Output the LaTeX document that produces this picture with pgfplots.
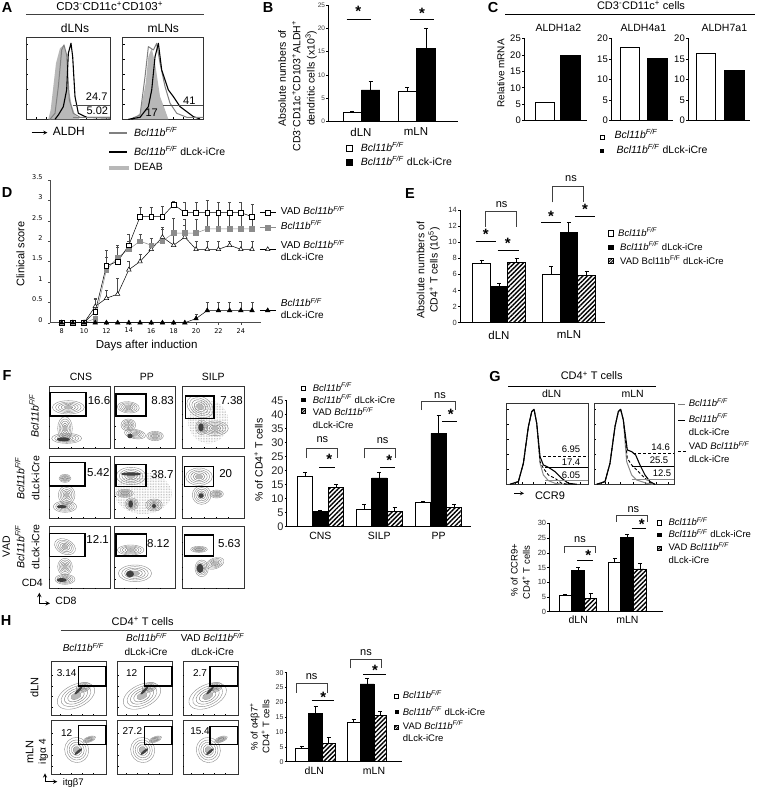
\documentclass[border=0pt]{standalone}
\usepackage{fontspec}
\setmainfont{Liberation Sans}
\newfontfamily\dv{DejaVu Sans}
\usepackage{pgfplots}
\pgfplotsset{compat=1.18}
\usetikzlibrary{patterns.meta}
\newcommand\fs[1]{\fontsize{#1}{#1}\selectfont}
\newcommand\BF{\textit{Bcl11b}\textsuperscript{\textit{F/F}}}
\newcommand\CUT{\BF\ dLck-iCre}
\tikzset{
 Z/.style 2 args={shift={(#1pt,-#2pt)},x=0.33333pt,y=-0.33333pt},
 t/.style={inner sep=0pt,anchor=mid},
 l/.style={inner sep=0pt,anchor=mid west},
 hatch/.style={pattern={Lines[angle=45,distance=3.2pt,line width=1.4pt]}},
 br/.style={line width=.7pt,black!75},
}
\pgfplotsset{
 eb/.style={error bars/y dir=plus,error bars/y explicit,error bars/error bar style={line width=.8pt,black,solid,fill=none},error bars/error mark options={rotate=90,mark size=2pt,line width=.8pt,black}},
 wb/.style={ybar,bar shift=0pt,bar width=#1,fill=white,draw=black,line width=.9pt,eb},
 kb/.style={ybar,bar shift=0pt,bar width=#1,fill=black,draw=black,line width=.9pt,eb},
 hb/.style={ybar,bar shift=0pt,bar width=#1,draw=black,line width=.9pt,/tikz/hatch,eb},
 wn/.style={ybar,bar shift=0pt,bar width=#1,fill=white,draw=black,line width=.9pt},
 kn/.style={ybar,bar shift=0pt,bar width=#1,fill=black,draw=black,line width=.9pt},
 barax/.style={scale only axis,axis x line*=bottom,axis y line*=left,axis line style={line width=.7pt,-},tick align=outside,
   xtick style={draw=none},ytick style={line width=.5pt,black},major tick length=2pt,clip=false,
   /pgf/number format/assume math mode=true,enlargelimits=false,ymin=0,tick label style={inner sep=1pt}},
 hist/.style={scale only axis,enlargelimits=false,ymin=0,axis line style={line width=.9pt,black!80},xticklabels={},yticklabels={},tick align=inside,
   major tick length=2pt,tick style={black,line width=.4pt},xtick pos=bottom,ytick pos=left,clip=true,
   no markers,every axis plot/.append style={line join=round}},
 dd/.style={line width=.5pt,black,error bars/y dir=plus,error bars/y explicit,error bars/error bar style={line width=.4pt,black!70},error bars/error mark options={rotate=90,mark size=1.5pt,black!70,line width=.4pt}},
}
% flow-cytometry contour decoration
\newcommand\Cn[5]{\foreach \s/\g in {1/45,.8/45,.62/50,.44/55,.27/60}{\draw[black!\g,line width=.4pt,rotate around={#5:(#1,#2)}] (#1,#2) ellipse [x radius=\s*#3,y radius=\s*#4];}\fill[black!28,rotate around={#5:(#1,#2)}] (#1,#2) ellipse [x radius=.27*#3,y radius=.27*#4];}
\newcommand\Cr[5]{\fill[black!75,rotate around={#5:(#1,#2)}] (#1,#2) ellipse [x radius=#3,y radius=#4];}
\newcommand\Bg[5]{\fill[pattern={Dots[distance=1.6pt,radius=.3pt]},pattern color=black!55,rotate around={#5:(#1,#2)}] (#1,#2) ellipse [x radius=#3,y radius=#4];}
\newcommand\FB[4]{\draw[line width=.9pt,black!80] (#1,#2) rectangle (#3,#4);
  \foreach \q in {.15,.35,.55,.75}{\draw[line width=.3pt] ({#1+\q*(#3-#1)},#4) -- ++(0,-3);\draw[line width=.3pt] (#1,{#4-\q*(#4-#2)}) -- ++(3,0);}}
\newcommand\Gt[4]{\draw[line width=1.1pt] (#1,#2) rectangle (#3,#4);}
\newcommand\Nm[3]{\node[t,font=\fs{11.5}] at (#1,#2) {#3};}
\newcommand\Br[4]{\draw[br] (#1,#4) -- (#1,#3) -- (#2,#3) -- (#2,#4);}
\newcommand\St[2]{\node[inner sep=0pt,font=\fs{15}\bfseries] at (#1,#2+4) {*};}
\newcommand\Ln[3]{\draw[line width=.8pt] (#1,#3) -- (#2,#3);}
\newcommand\SW[3]{\draw[line width=.9pt,fill=white] ({#1-#3},{#2-#3}) rectangle ({#1+#3},{#2+#3});}
\newcommand\SK[3]{\fill[black] ({#1-#3},{#2-#3}) rectangle ({#1+#3},{#2+#3});}
\newcommand\SH[3]{\draw[line width=.9pt,pattern={Lines[angle=45,distance=2pt,line width=1pt]}] ({#1-#3},{#2-#3}) rectangle ({#1+#3},{#2+#3});}
\begin{document}
\begin{tikzpicture}
\path[use as bounding box,fill=white] (0pt,0pt) rectangle (756pt,-800pt);

% ---------- A histograms
\begin{axis}[hist,at={(26pt,-119.3pt)},width=84pt,height=81.7pt,xmin=78,xmax=330,ymax=245,xtick={110,140,170,200,230,260,290,320},ytick={45,90,135,180,225}]
\addplot[fill=black!28,draw=none] coordinates {(145,0)(152,28)(160,98)(168,168)(180,213)(192,223)(200,188)(205,98)(215,43)(225,13)(240,0)};
\addplot[black!50,line width=1pt] coordinates {(150,0)(165,18)(175,98)(185,208)(192,223)(200,193)(208,58)(220,18)(240,6)(330,3)};
\addplot[black,line width=1.1pt] coordinates {(165,0)(175,13)(190,38)(200,88)(205,198)(213,228)(218,188)(225,68)(235,18)(260,6)(330,6)};
\addplot[black!70,line width=.9pt] coordinates {(218,43)(330,43)};
\addplot[black!50,line width=.9pt] coordinates {(218,6)(330,6)};
\end{axis}
\begin{axis}[hist,at={(122.7pt,-119.3pt)},width=80.7pt,height=81.7pt,xmin=368,xmax=610,ymax=245,xtick={400,430,460,490,520,550,580},ytick={45,90,135,180,225}]
\addplot[fill=black!28,draw=none] coordinates {(400,0)(420,18)(437,108)(445,188)(455,213)(465,168)(480,68)(495,28)(505,0)};
\addplot[black!50,line width=1pt] coordinates {(390,0)(420,13)(435,128)(445,218)(460,208)(470,228)(480,168)(495,98)(510,48)(530,18)(560,6)(610,6)};
\addplot[black,line width=1.1pt] coordinates {(385,0)(420,6)(445,38)(455,88)(465,188)(475,228)(485,148)(495,118)(505,88)(520,68)(540,38)(560,23)(580,8)(600,1)};
\addplot[black!70,line width=.9pt] coordinates {(488,43)(610,43)};
\addplot[black!50,line width=.9pt] coordinates {(570,6)(610,6)};
\end{axis}

% ---------- B
\begin{axis}[barax,at={(328.3pt,-121.7pt)},width=130pt,height=116.7pt,xmin=328.3,xmax=458.3,ymax=25,ytick={0,5,...,25},xtick={361,416},xticklabels={dLN,mLN},
  yticklabel style={font=\fs{6.5}\color{black!75}},xticklabel style={font=\fs{11.5},yshift=-3pt}]
\addplot[wb=18pt] coordinates {(352,1.9)+-(0,.4)(407,6.4)+-(0,.9)};
\addplot[kb=18.5pt] coordinates {(370.5,6.8)+-(0,1.9)(426,15.7)+-(0,4.3)};
\end{axis}

% ---------- C
\begin{axis}[barax,at={(524pt,-120.7pt)},width=63pt,height=82.4pt,xmin=524,xmax=587,ymax=25,ytick={0,5,...,25},xtick=\empty,yticklabel style={font=\fs{9.5}}]
\addplot[wn=19.5pt] coordinates {(545,5.5)};
\addplot[kn=20pt] coordinates {(570,19.9)};
\end{axis}
\begin{axis}[barax,at={(611pt,-120.7pt)},width=62pt,height=82.4pt,xmin=611,xmax=673,ymax=20,ytick={0,5,...,20},xtick=\empty,yticklabel style={font=\fs{9.5}}]
\addplot[wn=19.5pt] coordinates {(630,17.8)};
\addplot[kn=20pt] coordinates {(657,15.2)};
\end{axis}
\begin{axis}[barax,at={(688pt,-120.7pt)},width=62pt,height=82.4pt,xmin=688,xmax=750,ymax=20,ytick={0,5,...,20},xtick=\empty,yticklabel style={font=\fs{9.5}}]
\addplot[wn=19.5pt] coordinates {(706,16.4)};
\addplot[kn=20pt] coordinates {(734,12.1)};
\end{axis}

% ---------- D
\begin{axis}[scale only axis,at={(50pt,-322.7pt)},width=211pt,height=142.7pt,xmin=6.96,xmax=25.8,ymin=0,ymax=3.5,
  axis x line*=bottom,axis y line*=left,axis line style={line width=.5pt,black!70,-},tick align=outside,major tick length=2pt,clip=false,
  xtick={8,10,...,24},ytick={0,.5,...,3.5},yticklabels={0,0.5,1,1.5,2,2.5,3,3.5},
  /pgf/number format/assume math mode=true,tick style={black!70,line width=.4pt},
  xticklabel style={font=\dv\fs{6.5}},yticklabel style={font=\dv\fs{6.5},yshift=3pt,xshift=-2pt}]
\addplot[dd,mark=triangle*,mark size=2.6pt,mark options={fill=white,solid,line width=.5pt}] coordinates {(8,0)(9,0)(10,0)(11,.4)+-(0,.2)(12,.6)+-(0,.2)(13,.7)+-(0,.4)(14,1.3)+-(0,.2)(15,1.5)+-(0,.17)(16,1.8)+-(0,.1)(17,2.1)+-(0,.2)(18,1.9)+-(0,.25)(19,2.1)+-(0,.3)(20,1.8)+-(0,.2)(21,1.8)+-(0,.2)(22,1.8)+-(0,.2)(23,1.9)+-(0,.1)(24,1.8)+-(0,.2)(25,1.8)+-(0,.2)};
\addplot[dd,black!45,mark=square*,mark size=2.3pt,mark options={fill=black!45,draw=black!45}] coordinates {(8,0)(9,0)(10,0)(11,.1)(12,1.3)+-(0,.3)(13,1.6)+-(0,.25)(14,1.8)+-(0,.2)(15,2)+-(0,.17)(16,1.9)+-(0,.17)(17,2)+-(0,.35)(18,2.2)+-(0,.37)(19,2.2)+-(0,.35)(20,2.2)+-(0,.35)(21,2.3)+-(0,.4)(22,2.3)+-(0,.4)(23,2.3)+-(0,.4)(24,2.3)+-(0,.4)(25,2.3)+-(0,.3)};
\addplot[dd,mark=square*,mark size=2.3pt,mark options={fill=white,solid,line width=.5pt}] coordinates {(8,0)(9,0)(10,0)(11,.27)+-(0,.3)(12,1.4)+-(0,.37)(13,1.5)+-(0,.4)(14,1.9)+-(0,.26)(15,2.6)+-(0,.23)(16,2.6)+-(0,.24)(17,2.6)+-(0,.26)(18,2.9)+-(0,.08)(19,2.7)+-(0,.26)(20,2.7)+-(0,.26)(21,2.7)+-(0,.3)(22,2.7)+-(0,.26)(23,2.7)+-(0,.26)(24,2.7)+-(0,.26)(25,2.6)+-(0,.3)};
\addplot[dd,mark=triangle*,mark size=2.6pt] coordinates {(8,0)(9,0)(10,0)(11,0)(12,0)(13,0)(14,0)(15,0)(16,0)(17,0)(18,0)(19,0)(20,.1)+-(0,.1)(21,.3)+-(0,.2)(22,.3)+-(0,.2)(23,.3)+-(0,.2)(24,.3)+-(0,.2)(25,.3)+-(0,.2)};
% legend keys
\addplot[line width=.5pt,mark=square*,mark size=2.3pt,mark options={fill=white},mark indices={2}] coordinates {(25.7,2.7)(26.4,2.7)(27.1,2.7)};
\addplot[line width=.8pt,black!45,mark=square*,mark size=2.3pt,mark options={fill=black!45,draw=black!45},mark indices={2}] coordinates {(25.7,2.33)(26.4,2.33)(27.1,2.33)};
\addplot[line width=.5pt,mark=triangle*,mark size=2.6pt,mark options={fill=white},mark indices={2}] coordinates {(25.7,1.8)(26.4,1.8)(27.1,1.8)};
\addplot[line width=.5pt,mark=triangle*,mark size=2.6pt,mark indices={2}] coordinates {(25.7,.3)(26.4,.3)(27.1,.3)};
\end{axis}

% ---------- E
\begin{axis}[barax,at={(460pt,-322.7pt)},width=145pt,height=112.7pt,xmin=460,xmax=605,ymax=14,ytick={0,2,...,14},xtick={499,569},xticklabels={dLN,mLN},
  yticklabel style={font=\fs{7.5}\color{black!80}},xticklabel style={font=\fs{11.5},yshift=-5pt}]
\addplot[wb=18pt] coordinates {(481.7,7.35)+-(0,.45)(551.3,6)+-(0,1)};
\addplot[kb=17pt] coordinates {(499,4.5)+-(0,.4)(568.8,11.2)+-(0,1.3)};
\addplot[hb=18pt] coordinates {(516.5,7.45)+-(0,.55)(586.7,5.9)+-(0,.5)};
\end{axis}

% ---------- F bars
\begin{axis}[barax,at={(286.7pt,-526.7pt)},width=184pt,height=126pt,xmin=140,xmax=692,ymax=45,ytick={0,5,...,45},xtick={241,418,596},xticklabels={CNS,SILP,PP},
  yticklabel style={font=\fs{11}\color{black!85}},xticklabel style={font=\fs{10.5},yshift=-2pt}]
\addplot[wb=15pt] coordinates {(195,17.9)+-(0,1.5)(372,6.3)+-(0,1.7)(550,8.7)+-(0,.5)};
\addplot[kb=15.5pt] coordinates {(241,5.4)+-(0,.6)(418,17.4)+-(0,2)(596,33.3)+-(0,6.3)};
\addplot[hb=15pt] coordinates {(288,14)+-(0,1.2)(464,5.5)+-(0,1.3)(642,6.8)+-(0,1.2)};
\end{axis}

% ---------- G histograms
\begin{axis}[hist,at={(506.7pt,-484.3pt)},width=81.7pt,height=81pt,xmin=50,xmax=295,ymax=243,xtick={75,85,95,130,165,200,235,270},ytick={45,90,135,180,225}]
\addplot[black!45,line width=1pt] coordinates {(60,0)(85,8)(100,63)(115,173)(125,218)(132,225)(140,183)(150,63)(160,28)(175,11)(195,3)(220,0)};
\addplot[black,line width=.9pt,densely dashed] coordinates {(60,0)(85,8)(100,63)(115,173)(125,218)(132,225)(140,183)(150,68)(160,48)(175,28)(195,18)(215,3)(235,0)};
\addplot[black,line width=1.1pt] coordinates {(60,0)(85,8)(100,63)(115,173)(125,218)(132,225)(140,183)(150,83)(160,58)(175,51)(195,38)(215,18)(235,3)(260,0)};
\addplot[black,line width=.9pt,densely dashed] coordinates {(160,85)(295,85)};
\addplot[black,line width=.9pt] coordinates {(165,50)(295,50)};
\addplot[black!45,line width=.9pt] coordinates {(165,13)(295,13)};
\end{axis}
\begin{axis}[hist,at={(594pt,-484.3pt)},width=80.3pt,height=81pt,xmin=312,xmax=553,ymax=243,xtick={335,345,355,392,430,465,500,535},ytick={45,90,135,180,225}]
\addplot[black!45,line width=1pt] coordinates {(320,0)(345,8)(360,63)(375,173)(385,218)(392,225)(400,193)(410,68)(425,28)(440,13)(470,3)(490,0)};
\addplot[black,line width=.9pt,densely dashed] coordinates {(320,0)(345,8)(360,63)(375,173)(385,218)(392,225)(400,193)(412,78)(425,58)(440,43)(460,23)(480,5)(495,0)};
\addplot[black,line width=1.1pt] coordinates {(320,0)(345,8)(360,63)(375,173)(385,218)(392,225)(400,193)(412,103)(425,98)(437,88)(450,58)(465,28)(480,8)(495,0)};
\addplot[black,line width=.9pt,densely dashed] coordinates {(430,93)(553,93)};
\addplot[black,line width=.9pt] coordinates {(425,55)(553,55)};
\addplot[black!45,line width=.9pt] coordinates {(425,15)(553,15)};
\end{axis}

% ---------- G bars
\begin{axis}[barax,at={(549.3pt,-611.7pt)},width=113.7pt,height=88.4pt,xmin=178,xmax=520,ymax=30,ytick={0,5,...,30},xtick={265,413},xticklabels={dLN,mLN},
  yticklabel style={font=\fs{7.5}\color{black!80}},xticklabel style={font=\fs{10.5},yshift=-1pt}]
\addplot[wb=12.5pt] coordinates {(226,5.4)+-(0,.5)(375,16.8)+-(0,1.3)};
\addplot[kb=12.7pt] coordinates {(264.5,13.9)+-(0,1.1)(412.5,25.1)+-(0,1.2)};
\addplot[hb=12.5pt] coordinates {(302.5,4.5)+-(0,1.7)(451,14.5)+-(0,1.9)};
\end{axis}

% ---------- H bars
\begin{axis}[barax,at={(286.7pt,-761.7pt)},width=115pt,height=89pt,xmin=-10,xmax=335,ymax=30,ytick={0,5,...,30},xtick={73,252},xticklabels={dLN,mLN},
  yticklabel style={font=\fs{7}\color{black!80}},xticklabel style={font=\fs{10.5},yshift=-2pt}]
\addplot[wb=13pt] coordinates {(35.5,4.5)+-(0,.8)(191,13.1)+-(0,1.1)};
\addplot[kb=14pt] coordinates {(76.5,16.3)+-(0,2.2)(231,26.2)+-(0,1.9)};
\addplot[hb=12.5pt] coordinates {(116.5,6.2)+-(0,2)(271,15.6)+-(0,1.4)};
\end{axis}

% ---------- panel letters
\foreach \c/\x/\y in {A/7/8,B/268/8,C/493/8,D/7/193,E/410/194,F/7/376,G/495/377,H/6/621}
  \node[inner sep=0pt,font=\fs{14.5}\bfseries] at (\x pt,-\y pt) {\c};

% ---------- annotations A + B (zoom 1)
\begin{scope}[Z={0}{0}]
\node[t,font=\fs{11.5}] at (329,25) {CD3\textsuperscript{-}CD11c\textsuperscript{+}CD103\textsuperscript{+}};
\draw[line width=1pt,black!75] (78,45) -- (612,45);
\node[t,font=\fs{12}] at (225,90) {dLNs};
\node[t,font=\fs{12}] at (490,90) {mLNs};
\node[t,font=\fs{11}] at (290,295) {24.7};
\node[t,font=\fs{11}] at (292,336) {5.02};
\node[t,font=\fs{11}] at (568,305) {41};
\node[t,font=\fs{11}] at (455,342) {17};
\draw[line width=.8pt,-stealth] (95,398) -- (142,398);
\node[l,font=\fs{12}] at (158,398) {ALDH};
\draw[black!50,line width=2pt] (328,400) -- (382,400);
\node[l,font=\fs{10.5}] at (402,402) {\BF};
\draw[black,line width=2pt] (328,456) -- (382,456);
\node[l,font=\fs{10.5}] at (402,458) {\CUT};
\draw[black!28,line width=4pt] (328,505) -- (388,505);
\node[l,font=\fs{10.5}] at (402,505) {DEAB};
% B
\node[t,rotate=90,font=\fs{10.5}] at (850,235) {Absolute numbers of};
\node[t,rotate=90,font=\fs{10.5}] at (893,258) {CD3\textsuperscript{-}CD11c\textsuperscript{+}CD103\textsuperscript{+}ALDH\textsuperscript{+}};
\node[t,rotate=90,font=\fs{10.5}] at (936,235) {dendritic cells (x10\textsuperscript{3})};
\St{1075}{30}\Ln{1040}{1112}{58}
\St{1266}{36}\Ln{1230}{1302}{58}
\SW{1048}{445}{10}\SK{1048}{487}{10}
\node[l,font=\fs{10.5}] at (1082,447) {\BF};
\node[l,font=\fs{10.5}] at (1082,489) {\CUT};
\end{scope}
% C (zoom 2)
\begin{scope}[Z={380}{0}]
\node[t,font=\fs{11}] at (783,20) {CD3\textsuperscript{-}CD11c\textsuperscript{+} cells};
\draw[line width=1pt] (375,45) -- (1124,45);
\node[t,font=\fs{10.5}] at (535,87) {ALDH1a2};
\node[t,font=\fs{10.5}] at (790,87) {ALDH4a1};
\node[t,font=\fs{10.5}] at (1033,87) {ALDH7a1};
\node[t,rotate=90,font=\fs{10}] at (365,220) {Relative mRNA};
\SW{666}{411}{6}\SK{666}{453}{6}
\node[l,font=\fs{10.5}] at (703,408) {\BF};
\node[l,font=\fs{10.5}] at (709,453) {\CUT};
\end{scope}
% D (zoom 3)
\begin{scope}[Z={0}{185}]
\node[t,rotate=90,font=\fs{11}] at (65,207) {Clinical score};
\node[t,font=\fs{11.5}] at (440,482) {Days after induction};
\node[l,font=\fs{10}] at (842,82) {VAD \BF};
\node[l,font=\fs{10}] at (842,125) {\BF};
\node[l,font=\fs{10}] at (842,183) {VAD \BF};
\node[l,font=\fs{10}] at (842,220) {dLck-iCre};
\node[l,font=\fs{10}] at (842,357) {\BF};
\node[l,font=\fs{10}] at (842,393) {dLck-iCre};
\end{scope}
% E (zoom 4)
\begin{scope}[Z={400}{185}]
\node[t,rotate=90,font=\fs{10.5}] at (65,255) {Absolute numbers of};
\node[t,rotate=90,font=\fs{10.5}] at (105,255) {CD4\textsuperscript{+} T cells (10\textsuperscript{5})};
\node[t,font=\fs{11}] at (305,60) {ns};
\Br{255}{348}{78}{125}
\St{257}{145}\Ln{227}{288}{168}
\St{323}{172}\Ln{293}{356}{195}
\node[t,font=\fs{11}] at (513,-18) {ns};
\Br{457}{550}{3}{52}
\St{453}{90}\Ln{424}{484}{113}
\St{555}{70}\Ln{525}{586}{93}
\SW{633}{145}{8}\SK{633}{187}{8}\SH{633}{227}{8}
\node[l,font=\fs{9.5}] at (654,147) {\BF};
\node[l,font=\fs{9.5}] at (660,189) {\CUT};
\node[l,font=\fs{9.5}] at (660,231) {VAD Bcl11b\textsuperscript{F/F} dLck-iCre};
\end{scope}
% F contour plots (zoom 5)
\begin{scope}[Z={0}{350}]
\foreach \c/\x in {CNS/243,PP/441,SILP/640} \node[t,font=\fs{10.5}] at (\x,85) {\c};
\node[t,rotate=90,font=\fs{10.5}] at (108,197) {\BF};
\node[t,rotate=90,font=\fs{10.5}] at (65,385) {\BF};
\node[t,rotate=90,font=\fs{10.5}] at (110,385) {dLck-iCre};
\node[t,rotate=90,font=\fs{10.5}] at (22,590) {VAD};
\node[t,rotate=90,font=\fs{10.5}] at (65,590) {\BF};
\node[t,rotate=90,font=\fs{10.5}] at (110,590) {dLck-iCre};
\node[t,font=\fs{10.5}] at (97,702) {CD4};
\node[t,font=\fs{10.5}] at (198,755) {CD8};
\draw[line width=1pt,-stealth] (118,760) -- (118,728);
\draw[line width=1pt,-stealth] (118,760) -- (150,760);
% row 1
\Cn{205}{172}{48}{20}{0}\Cn{195}{235}{22}{35}{0}\Cn{200}{265}{45}{15}{0}\Cr{190}{268}{20}{6}{0}
\Cn{385}{172}{33}{17}{-5}\Cn{385}{225}{22}{18}{0}\Cn{405}{252}{32}{14}{-10}\Cn{465}{258}{25}{14}{0}\Cr{390}{258}{8}{7}{0}
\Bg{625}{215}{60}{65}{0}\Cn{600}{170}{42}{30}{-30}\Cn{605}{232}{18}{22}{0}\Cn{645}{235}{40}{22}{0}\Cr{603}{232}{8}{12}{0}
% row 2
\Cn{195}{385}{18}{12}{0}\Cn{200}{435}{25}{28}{0}\Cn{195}{470}{35}{17}{0}\Cr{185}{470}{15}{5}{0}
\Bg{430}{430}{85}{62}{0}\Cn{393}{378}{44}{26}{0}\Cr{393}{372}{30}{5}{0}\Cn{375}{430}{25}{12}{0}\Cn{395}{462}{20}{18}{0}\Cr{392}{462}{7}{11}{0}\Cn{462}{465}{25}{18}{0}\Cr{462}{468}{6}{6}{0}
\Cn{597}{380}{40}{26}{0}\Cn{605}{435}{28}{28}{0}\Cr{603}{437}{8}{7}{0}\Cn{650}{432}{20}{12}{0}
% row 3
\Cn{195}{590}{33}{22}{-25}\Cn{195}{650}{22}{25}{0}\Cn{195}{688}{30}{15}{0}\Cr{185}{690}{15}{6}{0}
\Cn{392}{600}{40}{15}{0}\Cn{405}{670}{50}{25}{0}\Cr{390}{672}{12}{10}{0}
\Cn{597}{598}{25}{9}{0}\Cn{605}{655}{20}{25}{0}\Cr{600}{655}{10}{14}{0}\Cn{645}{640}{28}{16}{20}
\FB{148}{108}{332}{295}\FB{344}{108}{526}{295}\FB{546}{108}{732}{295}
\FB{148}{318}{332}{505}\FB{344}{318}{526}{505}\FB{546}{318}{732}{505}
\FB{148}{530}{332}{716}\FB{344}{530}{526}{716}\FB{546}{530}{732}{716}
\Gt{150}{128}{258}{198}\Gt{348}{132}{438}{198}\Gt{556}{138}{642}{205}
\Gt{148}{338}{255}{408}\Gt{348}{344}{438}{410}\Gt{553}{350}{640}{410}
\Gt{148}{550}{255}{620}\Gt{348}{552}{440}{618}\Gt{553}{555}{640}{618}
\Nm{297}{155}{16.6}\Nm{488}{155}{8.83}\Nm{695}{155}{7.38}
\Nm{295}{372}{5.42}\Nm{487}{377}{38.7}\Nm{677}{375}{20}
\Nm{293}{572}{12.1}\Nm{475}{585}{8.12}\Nm{688}{585}{5.63}
\end{scope}
% F bars annotation (zoom 6)
\begin{scope}[Z={240}{350}]
\node[t,rotate=90,font=\fs{10.5}] at (60,330) {\% of CD4\textsuperscript{+} T cells};
\node[t,font=\fs{11}] at (247,270) {ns}; \Br{200}{293}{294}{323}\St{268}{325}\Ln{238}{285}{352}
\node[t,font=\fs{11}] at (428,272) {ns}; \Br{372}{465}{296}{325}\St{448}{327}\Ln{420}{465}{353}
\node[t,font=\fs{11}] at (600,137) {ns}; \Br{545}{647}{153}{180}\St{632}{190}\Ln{606}{651}{214}
\SW{190}{115}{7}\SK{190}{150}{7}\SH{190}{183}{7}
\node[l,font=\fs{9.5}] at (218,117) {\BF};
\node[l,font=\fs{9.5}] at (218,152) {\CUT};
\node[l,font=\fs{9.5}] at (218,190) {VAD \BF};
\node[l,font=\fs{9.5}] at (218,228) {dLck-iCre};
\end{scope}
% G (zoom 7)
\begin{scope}[Z={490}{350}]
\node[t,font=\fs{11}] at (305,82) {CD4\textsuperscript{+} T cells};
\draw[line width=.9pt] (55,110) -- (498,110);
\node[t,font=\fs{10.5}] at (185,135) {dLN};
\node[t,font=\fs{10.5}] at (428,135) {mLN};
\foreach \x/\y/\v in {243/300/6.95,243/340/17.4,243/377/6.05,512/293/14.6,507/333/25.5,516/373/12.5}
  \node[t,font=\fs{9.5}] at (\x,\y) {\v};
\draw[line width=.8pt,-stealth] (72,430) -- (102,430);
\node[t,font=\fs{11}] at (180,441) {CCR9};
\draw[black!50,line width=.8pt] (565,163) -- (585,163);
\node[l,font=\fs{9.5}] at (596,163) {\BF};
\draw[line width=1.1pt] (565,211) -- (585,211);
\node[l,font=\fs{9.5}] at (596,209) {\BF};
\node[l,font=\fs{9.5}] at (596,248) {dLck-iCre};
\draw[line width=1.1pt,densely dashed] (565,305) -- (588,305);
\node[l,font=\fs{9.5}] at (596,292) {VAD \BF};
\node[l,font=\fs{9.5}] at (596,331) {dLck-iCre};
\node[t,rotate=90,font=\fs{9.5}] at (75,660) {\% of CCR9+};
\node[t,rotate=90,font=\fs{9.5}] at (112,667) {CD4\textsuperscript{+} T cells};
\node[t,font=\fs{11}] at (270,570) {ns}; \Br{222}{317}{590}{608}\St{295}{612}\Ln{262}{310}{630}
\node[t,font=\fs{11}] at (430,480) {ns}; \Br{380}{472}{497}{515}\St{455}{518}\Ln{425}{468}{535}
\SW{508}{518}{7}\SK{508}{555}{7}\SH{508}{595}{7}
\node[l,font=\fs{9.5}] at (535,520) {\BF};
\node[l,font=\fs{9.5}] at (535,556) {\CUT};
\node[l,font=\fs{9.5}] at (535,595) {VAD \BF};
\node[l,font=\fs{9.5}] at (535,633) {dLck-iCre};
\end{scope}
% H contour plots (zoom 8)
\begin{scope}[Z={0}{610}]
\node[t,font=\fs{11}] at (428,38) {CD4\textsuperscript{+} T cells};
\draw[line width=1pt,black!75] (183,62) -- (720,62);
\node[t,font=\fs{10}] at (250,117) {\BF};
\node[t,font=\fs{10}] at (440,87) {\BF};
\node[t,font=\fs{10}] at (438,130) {dLck-iCre};
\node[t,font=\fs{10}] at (638,87) {VAD \BF};
\node[t,font=\fs{10}] at (638,130) {dLck-iCre};
\node[t,rotate=90,font=\fs{11}] at (107,232) {dLN};
\node[t,rotate=90,font=\fs{11}] at (92,425) {mLN};
\node[t,rotate=90,font=\fs{10}] at (130,425) {itgα 4};
\draw[line width=.9pt,-stealth] (135,515) -- (135,490);
\draw[line width=.9pt,-stealth] (135,515) -- (172,515);
\node[t,font=\fs{9.5}] at (220,520) {itgβ7};
\foreach \d in {0,198,395}{
 \begin{scope}[xshift=\d*0.33333pt]
 \Cn{228}{258}{60}{34}{25}\Cn{250}{232}{22}{14}{20}\Cr{235}{242}{16}{4}{45}
 \Cn{230}{420}{36}{38}{20}\Cn{268}{388}{20}{8}{20}\Cr{235}{425}{15}{4}{40}
 \end{scope}
}
\foreach \x/\y in {155/320,353/518,550/716}{\FB{\x}{155}{\y}{315}\FB{\x}{330}{\y}{492}}
\Gt{235}{170}{318}{228}\Gt{433}{170}{516}{228}\Gt{630}{170}{713}{228}
\Gt{235}{347}{318}{403}\Gt{433}{350}{516}{403}\Gt{630}{350}{713}{403}
\foreach \x/\y/\v in {200/192/3.14,395/192/12,600/192/2.7,200/372/12,397/367/27.2,600/367/15.4}
  \node[t,font=\fs{10}] at (\x,\y) {\v};
\node[t,rotate=90,font=\fs{9.5}] at (765,350) {\% of α4β7\textsuperscript{+}};
\node[t,rotate=90,font=\fs{9.5}] at (800,350) {CD4\textsuperscript{+} T cells};
\end{scope}
% H bars annotation (zoom 9)
\begin{scope}[Z={290}{620}]
\node[t,font=\fs{11}] at (65,172) {ns}; \Br{18}{112}{190}{218}\St{100}{228}\Ln{65}{133}{241}
\node[t,font=\fs{11}] at (228,100) {ns}; \Br{180}{273}{118}{145}\St{255}{147}\Ln{220}{287}{162}
\SW{318}{230}{6}\SK{320}{277}{6}\SH{320}{322}{6}
\node[l,font=\fs{9.5}] at (338,229) {\BF};
\node[l,font=\fs{9.5}] at (338,278) {\CUT};
\node[l,font=\fs{9.5}] at (338,321) {VAD \BF};
\node[l,font=\fs{9.5}] at (338,358) {dLck-iCre};
\end{scope}
\end{tikzpicture}
\end{document}
